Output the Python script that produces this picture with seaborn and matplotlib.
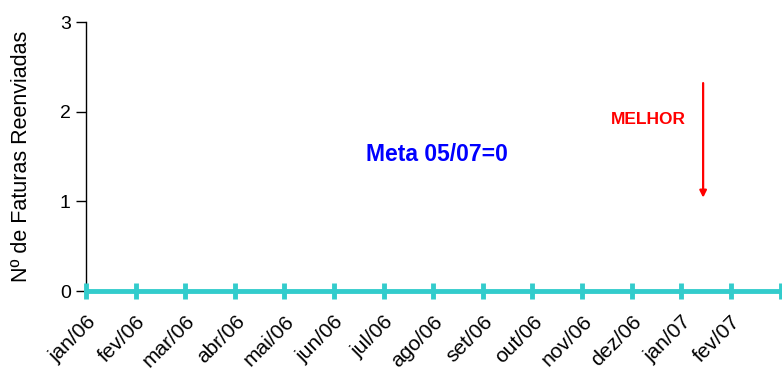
import matplotlib.pyplot as plt
import matplotlib.transforms as mtransforms
import seaborn as sns
import pandas as pd

sns.set_style('white')
plt.rcParams['font.family'] = ['Liberation Sans', 'DejaVu Sans']
plt.rcParams['text.color'] = 'black'
plt.rcParams['axes.labelcolor'] = 'black'
plt.rcParams['xtick.color'] = 'black'
plt.rcParams['ytick.color'] = 'black'

meses = ['jan/06', 'fev/06', 'mar/06', 'abr/06', 'mai/06', 'jun/06', 'jul/06',
         'ago/06', 'set/06', 'out/06', 'nov/06', 'dez/06', 'jan/07', 'fev/07', 'mar/07']
faturas = [0, 0, 0, 0, 0, 0, 0, 0, 0, 0, 0, 0, 0, 0, 0]

df = pd.DataFrame({'x': range(len(meses)), 'Faturas': faturas})

fig = plt.figure(figsize=(7.82, 3.70), dpi=100)
ax = fig.add_axes([0.110, 0.2135, 0.89, 0.727])
sns.lineplot(data=df, x='x', y='Faturas', ax=ax, color='#33CCCC', linewidth=3.5,
             marker='|', markersize=12, markeredgewidth=3.5,
             markeredgecolor='#33CCCC', clip_on=False, zorder=5)

ax.set_xlim(0, 14.03)
ax.set_ylim(0, 3)
ax.set_yticks([0, 1, 2, 3])
ax.set_xticks(range(len(meses) - 1))
ax.set_xticklabels(meses[:-1], rotation=45, ha='right', va='top',
                   rotation_mode='anchor', fontsize=15)
# deslocar rótulos para a direita como no original
desloc = mtransforms.ScaledTranslation(10 / 72, 0, fig.dpi_scale_trans)
for lbl in ax.get_xticklabels():
    lbl.set_transform(lbl.get_transform() + desloc)
ax.tick_params(axis='y', labelsize=14, length=7, width=1, direction='out', left=True, pad=4)
ax.tick_params(axis='x', length=0, pad=15)
ax.set_xlabel('')
ax.set_ylabel('Nº de Faturas Reenviadas', fontsize=15.5, labelpad=20)
for s in ['top', 'right', 'bottom']:
    ax.spines[s].set_visible(False)
ax.spines['left'].set_color('black')
ax.spines['left'].set_linewidth(1)

ax.text(7.08, 1.52, 'Meta 05/07=0', color='#0000FF', fontweight='bold', fontsize=16.5,
        ha='center', va='center')
ax.text(11.33, 1.91, 'MELHOR', color='#FF0000', fontweight='bold', fontsize=12.5,
        ha='center', va='center')
ax.annotate('', xy=(12.44, 1.01), xytext=(12.44, 2.35),
            arrowprops=dict(arrowstyle='-|>', color='#FF0000', lw=1.6, mutation_scale=10))

fig.savefig('out.png', dpi=100)
